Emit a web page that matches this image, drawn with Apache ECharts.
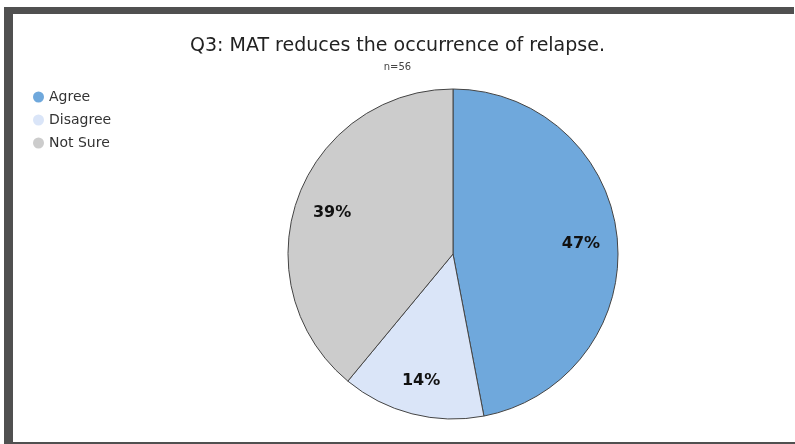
<!DOCTYPE html>
<html>
<head>
<meta charset="utf-8">
<script src="https://cdn.jsdelivr.net/npm/echarts@6/dist/echarts.min.js"></script>
<style>
  html, body { margin: 0; padding: 0; background: #fff; }
  #chart { position: absolute; left: 0; top: 0; width: 795px; height: 444px; }
  .frame-top { position: absolute; left: 4px; top: 7px; width: 790px; height: 7px; background: #505050; }
  .frame-left { position: absolute; left: 4px; top: 7px; width: 9px; height: 437px; background: #505050; }
  .frame-bottom { position: absolute; left: 4px; top: 442px; width: 791px; height: 2px; background: #505050; }
</style>
</head>
<body>
<div id="chart"></div>
<div class="frame-top"></div>
<div class="frame-left"></div>
<div class="frame-bottom"></div>
<script>
const categories = ["Agree", "Disagree", "Not Sure"];
const percents = [47, 14, 39];
const colors = ["#6fa8dc", "#dae5f8", "#cccccc"];

const chart = echarts.init(document.getElementById("chart"));

const pieData = categories.map((name, i) => ({
  name: name,
  value: percents[i],
  itemStyle: { color: colors[i] },
}));

const option = {
  animation: false,
  title: {
    text: "Q3: MAT reduces the occurrence of relapse.",
    subtext: "n=56",
    left: "center",
    top: 32,
    itemGap: 6,
    textStyle: {
      fontFamily: "DejaVu Sans",
      fontSize: 19,
      fontWeight: "normal",
      color: "#222",
    },
    subtextStyle: {
      fontFamily: "DejaVu Sans",
      fontSize: 10,
      color: "#444",
    },
  },
  legend: {
    orient: "vertical",
    left: 28,
    top: 85,
    icon: "circle",
    itemWidth: 11,
    itemHeight: 11,
    itemGap: 9,
    data: categories,
    itemStyle: { borderWidth: 0 },
    textStyle: {
      fontFamily: "DejaVu Sans",
      fontSize: 14,
      color: "#333",
    },
  },
  series: [
    {
      name: "pie",
      type: "pie",
      center: [453, 254],
      radius: 165,
      startAngle: 90,
      clockwise: true,
      label: { show: false },
      labelLine: { show: false },
      itemStyle: { borderColor: "#444", borderWidth: 1 },
      emphasis: { disabled: true },
      data: pieData,
    },
    {
      // label carrier, sits at ~3/4 of the radius
      name: "labels",
      type: "pie",
      center: [453, 256],
      radius: [86, 165],
      startAngle: 90,
      clockwise: true,
      silent: true,
      legendHoverLink: false,
      itemStyle: { color: "rgba(0,0,0,0)" },
      label: {
        show: true,
        position: "inside",
        formatter: "{c}%",
        fontFamily: "DejaVu Sans",
        fontSize: 16,
        fontWeight: "bold",
        color: "#111",
      },
      labelLine: { show: false },
      emphasis: { disabled: true },
      data: categories.map((name, i) => ({ name: name, value: percents[i] })),
    },
  ],
};

chart.setOption(option);
</script>
</body>
</html>
